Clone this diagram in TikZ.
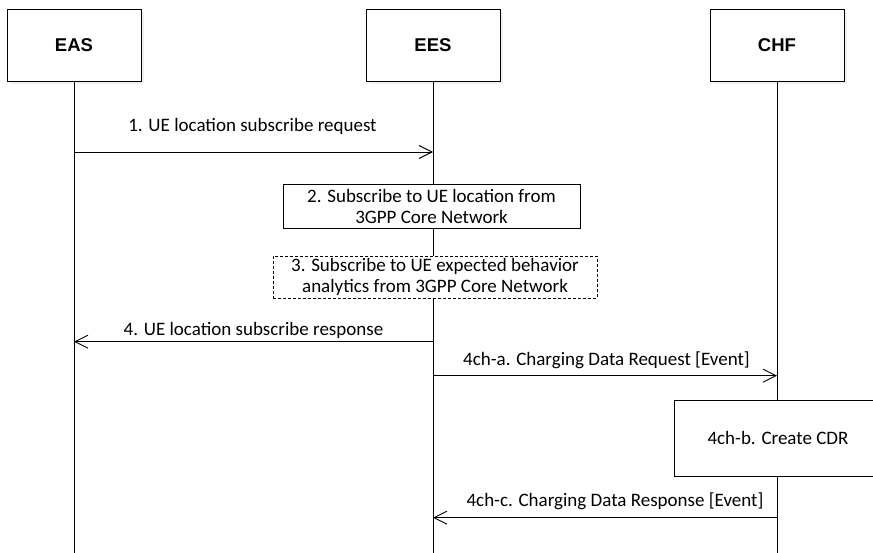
\documentclass[tikz,border=0pt]{standalone}
\usepackage{fontspec}
\setmainfont{Carlito}
\newfontfamily\headfont{Liberation Sans}
\usepackage{tikz}
\usetikzlibrary{arrows.meta}
\usetikzlibrary{shadows}
\usetikzlibrary{calc}
\tikzset{
  entity/.style={draw=black, fill=white, line width=0.9pt, minimum width=134pt, minimum height=72pt, inner sep=0pt,
    font=\headfont\fontsize{18.5}{20}\selectfont\bfseries,
    drop shadow={shadow xshift=3pt, shadow yshift=-3pt, fill=black!10}},
  lifeline/.style={line width=0.9pt},
  msg/.style={line width=0.9pt, -{Straight Barb[length=13pt,width=13pt]}},
  action/.style={draw=black, fill=white, line width=0.9pt, inner sep=0pt, align=center, font=\fontsize{19}{21}\selectfont},
  lbl/.style={font=\fontsize{19}{21}\selectfont, inner sep=0pt, anchor=base}
}

\begin{document}
\begin{tikzpicture}[x=1pt,y=-1pt]
  \clip (0,0) rectangle (873,553);
  \fill[white] (0,0) rectangle (873,553);
%% entities and their lifelines
\foreach \name/\x/\txt in {eas/74/EAS, ees/433/EES, chf/777/CHF}
  {
    \node[entity] (\name) at (\x,45) {\txt};
    \coordinate (\name end) at (\x,553);
    \draw[lifeline] (\name.south) -- (\name end);
  }
%% points where the messages meet the lifelines
\foreach \name/\x in {eas/74, ees/433, chf/777}
  {
    \coordinate (\name 1) at (\x,152);
    \coordinate (\name 4) at (\x,341.7);
    \coordinate (\name a) at (\x,375.7);
    \coordinate (\name c) at (\x,517.7);
  }
   \draw[msg] (eas1) -- (ees1) node[lbl, midway, yshift=20pt, xshift=-1pt] {1. UE location subscribe request};
   \node[action, minimum width=297pt, minimum height=44pt] (subloc) at (431.5,206) {2. Subscribe to UE location from\\3GPP Core Network};
   \node[action, dash pattern=on 3pt off 2pt, minimum width=324pt, minimum height=42pt] (subana) at (435,277) {3. Subscribe to UE expected behavior\\analytics from 3GPP Core Network};
   \draw[msg] (ees4) -- (eas4) node[lbl, midway, yshift=6.5pt] {4. UE location subscribe response};
   \draw[msg] (eesa) -- (chfa) node[lbl, midway, yshift=10pt, xshift=1.5pt] {4ch-a. Charging Data Request [Event]};
   \node[action, minimum width=208pt, minimum height=76pt] (cdr) at (778,438) {4ch-b. Create CDR};
   \draw[msg] (chfc) -- (eesc) node[lbl, midway, yshift=11pt, xshift=10pt] {4ch-c. Charging Data Response [Event]};
\end{tikzpicture}
\end{document}
